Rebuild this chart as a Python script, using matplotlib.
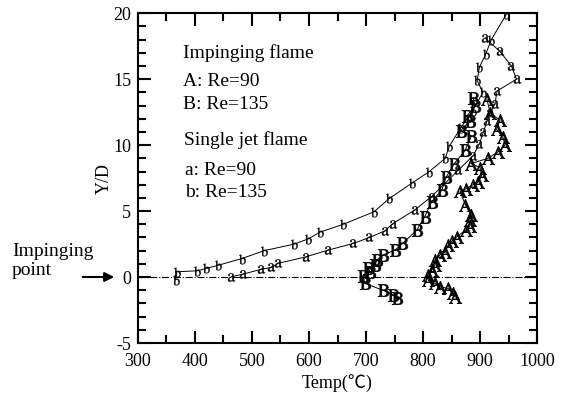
import matplotlib
matplotlib.use("Agg")
import matplotlib.pyplot as plt
from matplotlib.ticker import MultipleLocator

plt.rcParams["font.family"] = ["Liberation Serif", "Noto Sans CJK JP"]
plt.rcParams["mathtext.fontset"] = "stix"
plt.rcParams["axes.unicode_minus"] = False

# Impinging flame, Re=90 (A)
A_T = [856, 853, 844, 830, 821, 809, 808, 815, 821, 821, 830, 839, 844, 850, 859,
       876, 882, 882, 885, 874, 865, 876, 888, 897, 903, 900, 884, 914, 932, 944,
       940, 929, 935, 918, 912]
A_Y = [-1.5, -1.2, -0.86, -0.73, -0.48, -0.23, 0.15, 0.53, 0.9, 1.3, 1.7, 1.9, 2.4,
       2.7, 3.05, 3.6, 3.85, 4.3, 4.7, 5.5, 6.5, 6.7, 7.0, 7.2, 7.7, 8.3, 8.6, 9.0,
       9.5, 10.0, 10.6, 11.2, 11.9, 12.4, 13.5]

# Impinging flame, Re=135 (B)
B_T = [754, 748, 730, 698, 695, 707, 704, 716, 719, 730, 751, 764, 789, 803, 815,
       833, 841, 855, 874, 885, 866, 882, 877, 891, 888]
B_Y = [-1.6, -1.36, -1.0, -0.48, 0.08, 0.4, 0.66, 0.9, 1.3, 1.67, 2.05, 2.55, 3.56,
       4.57, 5.7, 6.6, 7.6, 8.6, 9.6, 10.7, 11.1, 11.8, 12.2, 13.0, 13.6]

# Single jet flame, Re=90 (a)
a_T = [464, 485, 515, 534, 546, 595, 634, 678, 706, 733, 747, 786, 815, 862, 888,
       899, 906, 912, 917, 926, 930, 964, 955, 935, 909]
a_Y = [0.03, 0.23, 0.58, 0.73, 1.04, 1.54, 2.05, 2.55, 3.0, 3.5, 4.05, 5.1, 6.1, 8.1,
       9.2, 10.1, 11.0, 11.8, 12.4, 13.1, 14.1, 15.0, 16.0, 17.1, 18.1]

# Single jet flame, Re=135 (b)
b_T = [366, 368, 404, 420, 441, 482, 521, 574, 599, 619, 660, 714, 741, 780, 811,
       839, 846, 866, 887, 905, 895, 899, 910, 920, 946]
b_Y = [-0.2, 0.4, 0.48, 0.66, 0.9, 1.4, 2.0, 2.5, 2.9, 3.4, 4.0, 4.95, 5.96, 7.1,
       8.0, 9.0, 9.9, 11.3, 12.6, 14.0, 14.9, 15.9, 16.9, 18.0, 19.9]

fig = plt.figure(figsize=(5.69, 3.98), dpi=100)
ax = fig.add_axes([0.2425, 0.138, 0.7013, 0.829])

ax.axhline(0, color="black", lw=0.8, ls="-.")

ax.plot(A_T, A_Y, color="black", lw=0.7, marker=r"$\mathrm{A}$", ms=9, mew=0.5)
ax.plot(B_T, B_Y, color="black", lw=0.7, marker=r"$\mathrm{B}$", ms=9, mew=0.4)
ax.plot(a_T, a_Y, color="black", lw=0.7, marker=r"$\mathrm{a}$", ms=6, mew=0.2)
ax.plot(b_T, b_Y, color="black", lw=0.7, marker=r"$\mathrm{b}$", ms=7, mew=0.2)

ax.set_xlim(300, 1000)
ax.set_ylim(-5, 20)
ax.xaxis.set_major_locator(MultipleLocator(100))
ax.xaxis.set_minor_locator(MultipleLocator(50))
ax.yaxis.set_major_locator(MultipleLocator(5))
ax.yaxis.set_minor_locator(MultipleLocator(1))
ax.tick_params(which="both", direction="in", top=True, right=True, width=1.5,
               labelsize=13)
ax.tick_params(which="major", length=9)
ax.tick_params(which="minor", length=6)
ax.tick_params(axis="x", pad=7)
ax.tick_params(axis="y", pad=5)
for s in ax.spines.values():
    s.set_linewidth(1.5)

ax.set_xlabel("Temp(℃)", fontsize=13, labelpad=3)
ax.set_ylabel("Y/D", fontsize=13, labelpad=0)

ax.text(379, 17.0, "Impinging flame", fontsize=14, va="center")
ax.text(379, 14.8, "A: Re=90", fontsize=14, va="center")
ax.text(379, 13.1, "B: Re=135", fontsize=14, va="center")
ax.text(381, 10.4, "Single jet flame", fontsize=14, va="center")
ax.text(382, 8.1, "a: Re=90", fontsize=14, va="center")
ax.text(382, 6.4, "b: Re=135", fontsize=14, va="center")

fig.text(12 / 569, 1 - 261 / 398, "Impinging\npoint", fontsize=14, va="center",
         ha="left", linespacing=1.1)
ax.annotate("", xy=(117 / 569, 0.304), xytext=(80 / 569, 0.304),
            xycoords="figure fraction", textcoords="figure fraction",
            arrowprops=dict(arrowstyle="-|>", color="black", lw=1.5,
                            mutation_scale=14))

fig.savefig("out.png", dpi=100)
